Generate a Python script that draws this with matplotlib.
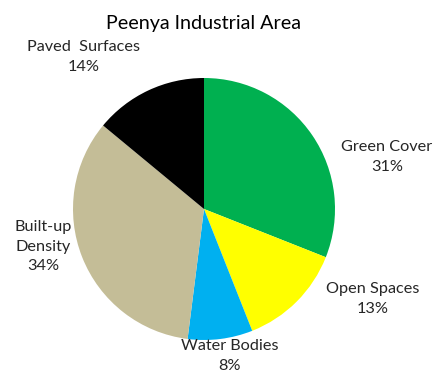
"""Land use share pie chart for Peenya Industrial Area."""

import matplotlib
import matplotlib.pyplot as plt

matplotlib.use("Agg")

categories = ["Green Cover", "Open Spaces", "Water Bodies", "Built-up\nDensity", "Paved  Surfaces"]
shares = [31, 13, 8, 34, 14]
colors = ["#00B050", "#FFFF00", "#00B0F0", "#C4BD97", "#000000"]

# label anchor points in figure pixels (x, y from top)
label_pos = [(387, 157), (373, 299), (230, 356), (43, 247), (84, 57)]

W, H = 435, 374
plt.rcParams["font.family"] = ["Lato", "DejaVu Sans"]

fig = plt.figure(figsize=(W / 100, H / 100), dpi=100)
ax = fig.add_axes([0, 0, 1, 1])

ax.pie(
    shares,
    colors=colors,
    startangle=90,
    counterclock=False,
    center=(204, H - 209),
    radius=131,
    wedgeprops={"linewidth": 0},
    frame=True,
)
ax.set_xlim(0, W)
ax.set_ylim(0, H)
ax.set_aspect("equal")
ax.axis("off")

for name, val, (px, py) in zip(categories, shares, label_pos):
    ax.text(px, H - py, f"{name}\n{val}%", ha="center", va="center",
            fontsize=11.7, color="#262626", linespacing=1.5)

ax.text(204, H - 23, "Peenya Industrial Area", ha="center", va="center",
        fontsize=14.2, color="#000000")

fig.savefig("out.png", dpi=100)
